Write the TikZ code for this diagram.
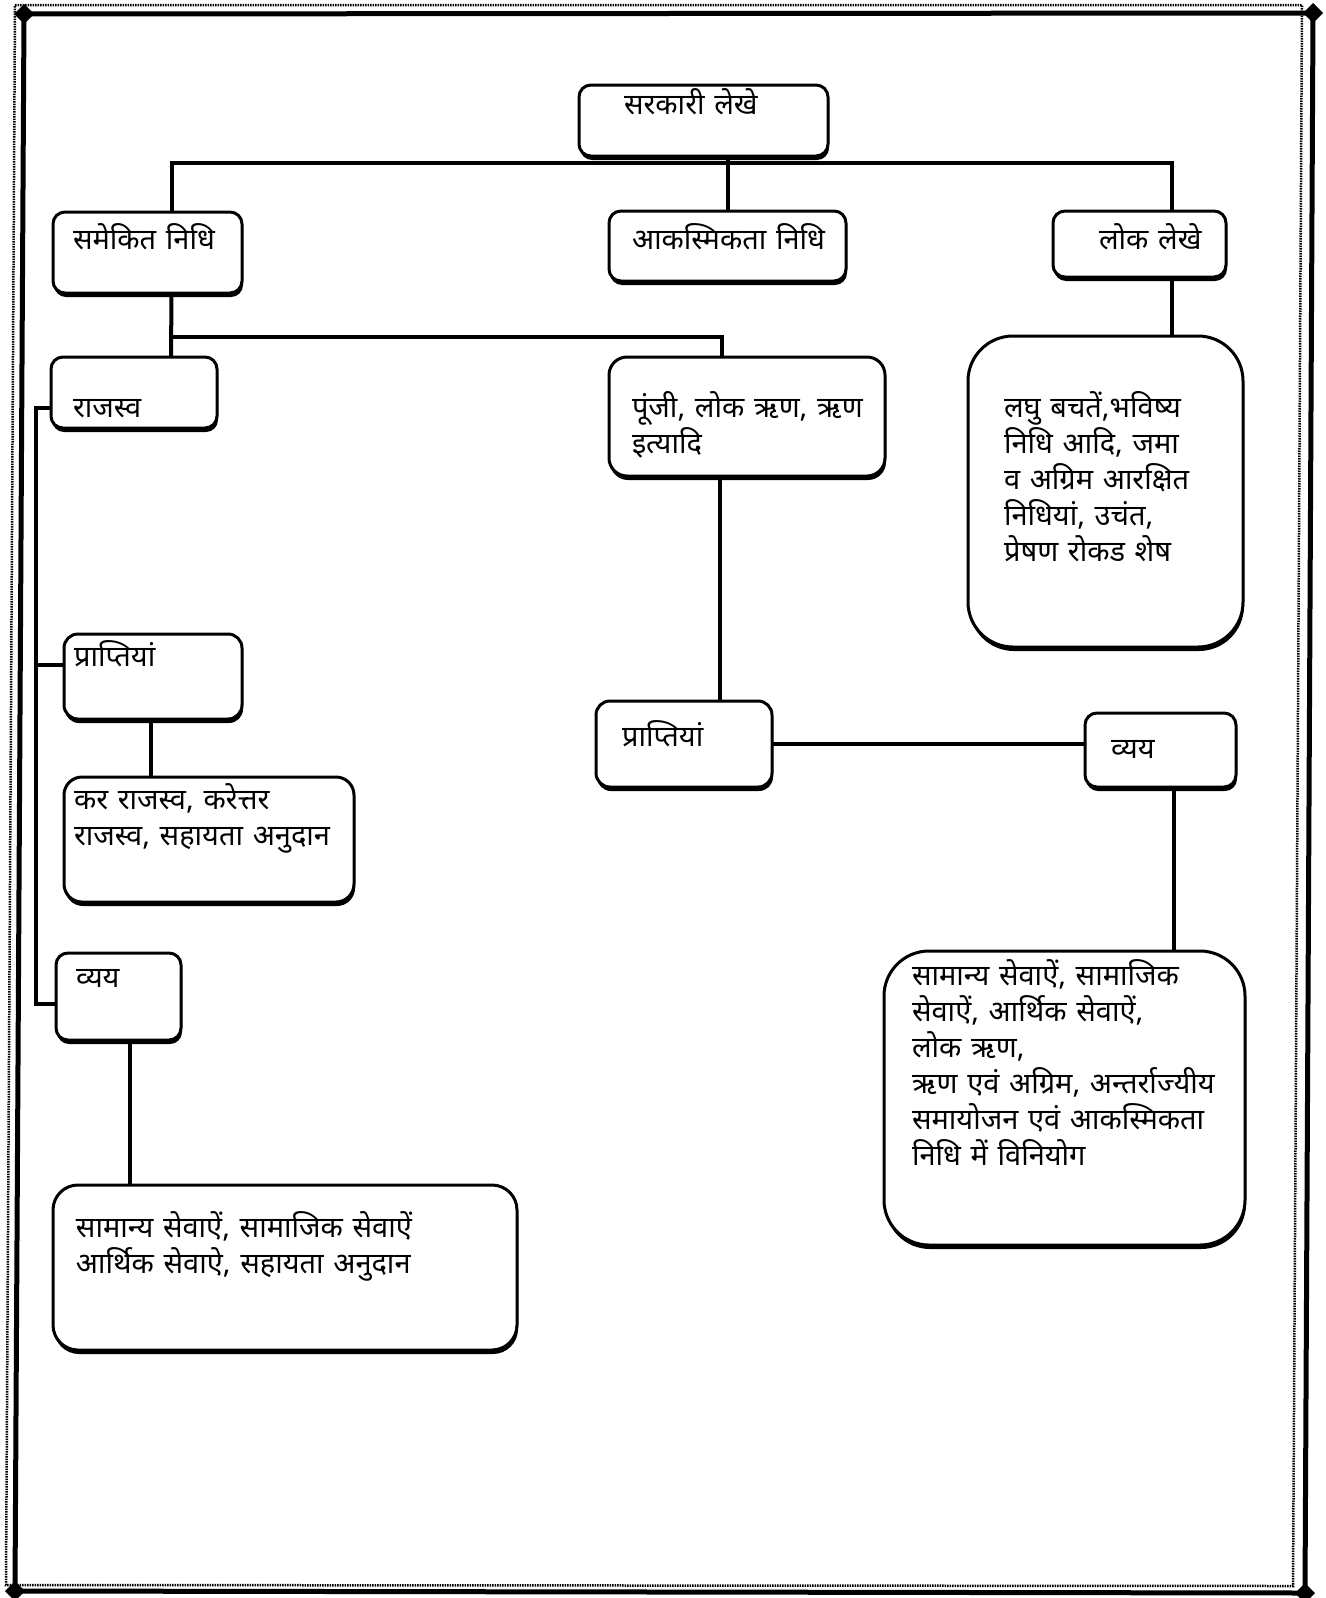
\documentclass[tikz,border=0pt]{standalone}
\usepackage{fontspec}
\newfontfamily\hindi[Script=Devanagari]{Noto Sans}
\usetikzlibrary{shadows}

\begin{document}
\begin{tikzpicture}
  [
   x=1pt,y=-1pt,
   box/.style={draw,line width=3pt,rounded corners=12pt,fill=white,
     anchor=north west,align=left,inner xsep=10pt,inner ysep=0pt,outer sep=0pt,
     font=\hindi\fontsize{29}{36}\selectfont,
     drop shadow={shadow xshift=1pt,shadow yshift=-4pt,fill=black,opacity=1}},
   textindent/.style={execute at begin node={\leftskip=#1pt\relax}},
   link/.style={line width=4pt},
   outerframe/.style={line width=5pt,line join=miter},
   dotframe/.style={line width=2.5pt,dash pattern=on 1.5pt off 1pt}
  ]
   \path[use as bounding box,fill=white] (0,0) rectangle (1325,1598);

   \draw[dotframe] (15,5) -- (1302,5) -- (1293,1586) -- (6,1585) -- cycle;
   \draw[outerframe] (24,14) -- (1313,13) -- (1305,1593) -- (15,1591) -- cycle;
   \fill (24,14) +(-10,0) -- +(0,-10) -- +(10,0) -- +(0,10) -- cycle;
   \fill (1313,13) +(-10,0) -- +(0,-10) -- +(10,0) -- +(0,10) -- cycle;
   \fill (1305,1593) +(-10,0) -- +(0,-10) -- +(10,0) -- +(0,10) -- cycle;
   \fill (15,1591) +(-10,0) -- +(0,-10) -- +(10,0) -- +(0,10) -- cycle;

   \node[box,text width=229pt,textindent=35,text height=29pt,text depth=42pt] (acct) at (579,85) {सरकारी लेखे};
   \node[box,text width=169pt,textindent=10,text height=37pt,text depth=44pt] (cfund) at (53,212) {समेकित निधि};
   \node[box,text width=217pt,textindent=13,text height=38pt,text depth=32pt] (contfund) at (609,211) {आकस्मिकता निधि};
   \node[box,text width=153pt,textindent=36,text height=38pt,text depth=28pt] (pubacct) at (1053,211) {लोक लेखे};

   \node[box,text width=146pt,textindent=12,text height=60pt,text depth=11pt] (rev) at (51,357) {राजस्व};
   \node[box,rounded corners=18pt,text width=256pt,textindent=13,text height=60pt,text depth=59pt] (cap) at (609,357)
     {पूंजी, लोक ऋण, ऋण\\इत्यादि};
   \node[box,rounded corners=45pt,text width=255pt,textindent=26,text height=81pt,text depth=230pt] (pubitems) at (968,336)
     {लघु बचतें,भविष्य\\निधि आदि, जमा\\व अग्रिम आरक्षित\\निधियां, उचंत,\\प्रेषण रोकड शेष};

   \node[box,rounded corners=14pt,text width=158pt,textindent=0,text height=32pt,text depth=53pt] (revrec) at (64,634) {प्राप्तियां};
   \node[box,rounded corners=18pt,text width=270pt,textindent=0,text height=32pt,text depth=93pt] (revrecitems) at (64,777)
     {कर राजस्व, करेत्तर\\राजस्व, सहायता अनुदान};
   \node[box,text width=105pt,textindent=10,text height=34pt,text depth=53pt] (revexp) at (56,953) {व्यय};
   \node[box,rounded corners=25pt,text width=444pt,textindent=13,text height=52pt,text depth=113pt] (revexpitems) at (53,1185)
     {सामान्य सेवाऐं, सामाजिक सेवाऐं\\आर्थिक सेवाऐ, सहायता अनुदान};

   \node[box,rounded corners=14pt,text width=156pt,textindent=16,text height=45pt,text depth=41pt] (caprec) at (596,701) {प्राप्तियां};
   \node[box,text width=131pt,textindent=16,text height=45pt,text depth=29pt] (capexp) at (1085,713) {व्यय};
   \node[box,rounded corners=45pt,text width=341pt,textindent=18,text height=34pt,text depth=260pt] (capexpitems) at (884,951)
     {सामान्य सेवाऐं, सामाजिक\\सेवाऐं, आर्थिक सेवाऐं,\\लोक ऋण,\\ऋण एवं अग्रिम, अन्तर्राज्यीय\\समायोजन एवं आकस्मिकता\\निधि में विनियोग};

   \coordinate (fork) at (171,337);

   \draw[link] (acct.south -| contfund.north) -- (contfund.north);
   \draw[link] ([xshift=24pt]cfund.north) -- ++(0,-49) -| ([xshift=32pt]pubacct.north);
   \draw[link] ([xshift=24pt]cfund.south) -- ([xshift=37pt]rev.north);
   \draw[link] (fork) -| ([xshift=-25pt]cap.north);
   \draw[link] ([xshift=32pt]pubacct.south) -- ([xshift=66pt]pubitems.north);

   \draw[link] ([yshift=-15pt]rev.west) -- ++(-15,0) |- ([yshift=-7pt]revexp.west);
   \draw[link] ([yshift=12pt]revrec.west) -- ++(-28,0);
   \draw[link] ([xshift=-2pt]revrec.south) -- ([xshift=-58pt]revrecitems.north);
   \draw[link] ([xshift=11.5pt]revexp.south) -- ([xshift=-155pt]revexpitems.north);

   \draw[link] ([xshift=-27pt]cap.south) -- ([xshift=36pt]caprec.north);
   \draw[link] (caprec.east) -- (caprec.east -| capexp.west);
   \draw[link] ([xshift=13.5pt]capexp.south) -- ([xshift=109.5pt]capexpitems.north);

\end{tikzpicture}
\end{document}
